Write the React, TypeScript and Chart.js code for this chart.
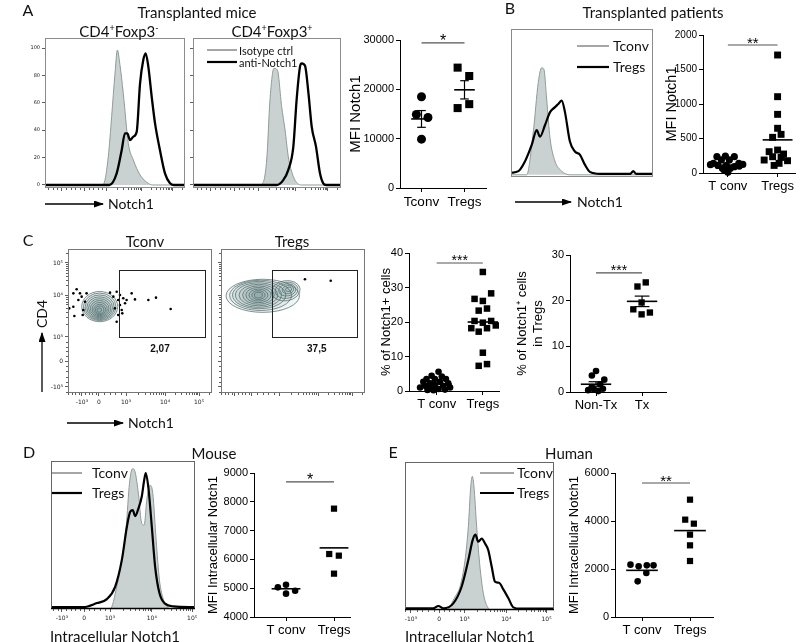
import React, { useEffect, useRef } from "react";
import { Chart, registerables } from "chart.js";

Chart.register(...registerables);
Chart.defaults.font.family = "'Liberation Sans', Arial, Helvetica, sans-serif";
Chart.defaults.color = "#111";

const W = 800;
const H = 642;

// ================= DATA =================
// Panel A – histograms (x: display channel 0-100, y: % of max)
const aNegIsoX = [0, 40, 42, 45.2, 47.6, 50, 51.7, 53.5, 55.9, 59.5, 63.1, 67.9, 73.8, 77, 100];
const aNegIsoY = [0, 0, 1, 20.7, 49.9, 81.5, 98.5, 88, 67, 30.4, 18.2, 7.3, 1.2, 0, 0];
const aNegNotchX = [0, 46, 51.2, 54.8, 57.1, 58.8, 60.7, 63.1, 65.5, 67.9, 70.2, 71.9, 73.8, 76.2, 78.6, 82.1, 85.7, 89.3, 92, 100];
const aNegNotchY = [0, 0, 8.5, 25.5, 37.7, 37.7, 32.8, 35.3, 38.9, 74.2, 91.2, 96.1, 86.4, 64.5, 45, 25.5, 8.5, 1.2, 0, 0];
const aPosIsoX = [0, 43, 46.4, 49.8, 52, 54.7, 57, 59.9, 62.2, 64.4, 67.8, 73.4, 100];
const aPosIsoY = [0, 0, 0.5, 18.2, 62, 85.2, 84, 57.2, 40.1, 20.7, 6.1, 0, 0];
const aPosNotchX = [0, 56.5, 61, 64.4, 67.8, 70, 72.3, 73.4, 75.7, 78, 80.2, 83.1, 85.8, 88, 90, 100];
const aPosNotchY = [0, 0, 3.6, 11, 28, 62, 86.4, 88.8, 87, 67, 42.6, 28, 8.5, 1.2, 0, 0];
const aHistYTicks = [0, 20, 40, 60, 80, 100];
const aHistXMajors = [12, 28, 44, 69, 91];

// Panel A – MFI scatter
const aCats = ["Tconv", "Tregs"];
const aTconvMFI = [18500, 14900, 14300, 9900];
const aTconvJit = [0, -0.12, 0.15, 0];
const aTregsMFI = [24400, 22700, 16200, 17000];
const aTregsJit = [-0.16, 0.11, -0.16, 0.11];
const aMean = [14000, 19900];
const aSem = [1700, 1850];

// Panel B – histogram
const bTconvX = [0, 11, 15.7, 19.2, 21.6, 23.2, 25.1, 27.5, 31, 35.7, 41.5, 100];
const bTconvY = [0, 0, 29.5, 63.3, 73.4, 72.3, 52, 25, 9.3, 2.5, 0, 0];
const bTregX = [0, 5.2, 9.9, 14.6, 18.1, 20.4, 23.9, 27.5, 31, 33.3, 35.7, 38, 41.5, 45, 48.6, 52, 55.6, 62.7, 84, 86.1, 88, 100];
const bTregY = [1.4, 2.5, 9.3, 20.5, 30.6, 26.1, 34, 43, 46.4, 48.6, 50.9, 43, 22.8, 16, 13.7, 7, 2, 0.7, 0.7, 2.5, 0.7, 0.7];

// Panel B – MFI scatter
const bCats = ["T conv", "Tregs"];
const bTconvMFI = [236, 245, 236, 190, 190, 140, 140, 110, 110, 92, 70, 70, 40, 10, 100, 120, 125];
const bTconvJit = [-0.22, -0.05, 0.13, -0.13, 0.03, -0.29, 0.22, -0.2, -0.03, 0.13, -0.11, 0.05, -0.07, 0, 0.23, -0.35, 0.3];
const bTregMFI = [1710, 1106, 850, 648, 517, 560, 333, 309, 275, 236, 226, 188, 178, 140, 110];
const bTregJit = [0, 0, 0, 0, -0.1, 0.07, 0, -0.17, 0.12, -0.1, 0.07, -0.27, 0.2, 0.03, -0.07];
const bMean = [110, 480];

// Panel C – contour plots (display units 0-100 on both axes)
const cLogLabels = ["-10³", "0", "10³", "10⁴", "10⁵"];
const cXMajors = [9.7, 21.5, 40.3, 67.4, 91];
const cYMajors = [4.2, 22.2, 38.9, 68, 90.3];
const tconvRingCx = [22, 22, 22, 22, 22, 22, 22, 22, 22, 21.7];
const tconvRingCy = [60, 59.8, 59.5, 59.2, 58.9, 58.6, 58.3, 58, 57.8, 57.6];
const tconvRingRx = [12.5, 11.3, 10.1, 8.9, 7.7, 6.5, 5.3, 4.1, 2.9, 1.6];
const tconvRingRy = [10.5, 9.6, 8.6, 7.6, 6.6, 5.6, 4.6, 3.6, 2.6, 1.5];
const tconvDotX = [6.0, 3.7, 8.3, 9.5, 7.2, 3.7, 0.9, 11.8, 10.6, 4.4, 10.2, 12.9, 29.2, 33.8, 36.1, 38.4, 34.9, 39.6, 36.1, 32.6, 37.3, 34.9, 37.7, 33.8, 44.2, 46.5, 55.8, 61.1, 71.3, 31.5, 40.7];
const tconvDotY = [72.0, 69.2, 69.2, 66.9, 64.6, 59.9, 58.8, 63.4, 57.6, 53.5, 54.2, 69.2, 69.7, 70.3, 68.1, 65.8, 64.6, 62.3, 61.1, 58.8, 57.6, 54.2, 55.3, 49.5, 69.2, 65.0, 64.6, 66.2, 58.3, 66.9, 64.6];
const tregBlobCx = [29, 27.5, 26.5, 26, 26, 26, 26, 26, 26, 26];
const tregBlobCy = [67.5, 67.8, 68, 68, 68, 68, 68, 68, 68, 68];
const tregBlobRx = [25.5, 21.5, 18.5, 16, 13.5, 11, 8.8, 6.6, 4.6, 2.8];
const tregBlobRy = [11.5, 10.5, 9.5, 8.5, 7.5, 6.4, 5.3, 4.2, 3.1, 2.0];
const tregTailCx = [45, 45.5, 46, 46.5, 47];
const tregTailCy = [71, 71.3, 71.6, 71.8, 72];
const tregTailRx = [10, 8, 6, 4, 2.2];
const tregTailRy = [7, 5.6, 4.2, 2.8, 1.5];
const tregDotX = [58.3, 76.2];
const tregDotY = [79, 78];
const tconvGateX = [35.4, 95.1];
const tregGateX = [35.6, 94.4];
const gateY = [38.7, 85.4];
const gatePct = ["2,07", "37,5"];

// Panel C – % scatters
const c1Cats = ["T conv", "Tregs"];
const c1TconvPct = [5.6, 4.4, 4.2, 3.5, 3.5, 3.5, 2.7, 2.7, 2.2, 2.2, 1.7, 1.5, 1.5, 1.0, 1.0, 0.8, 0.6, 0.4, 0.2, 0.3];
const c1TconvJit = [0.04, -0.11, 0.11, -0.22, -0.04, 0.2, -0.29, 0.07, -0.14, 0.25, -0.04, -0.25, 0.14, -0.36, 0.29, -0.14, 0.04, 0.18, -0.07, -0.2];
const c1TregPct = [34.5, 28.3, 26.7, 26.1, 23.3, 23.9, 20.3, 19.8, 20.3, 19.0, 18.2, 17.2, 18.2, 11.1, 7.3, 7.8];
const c1TregJit = [0, 0.18, -0.18, 0, -0.09, 0.09, -0.18, 0, 0.18, 0.28, -0.25, -0.09, 0.09, 0, -0.09, 0.09];
const c1Mean = [2.0, 20.0];
const c2Cats = ["Non-Tx", "Tx"];
const c2NonTxPct = [4.6, 3.6, 2.7, 1.7, 1.1, 0.7, 0.4, 0.2, 0.5];
const c2NonTxJit = [0, -0.09, 0.18, 0.09, -0.09, 0.15, -0.17, 0.05, -0.04];
const c2TxPct = [23.1, 24.0, 19.6, 18.1, 17.0, 17.4];
const c2TxJit = [-0.1, 0.08, -0.01, -0.19, -0.01, 0.17];
const c2Mean = [1.7, 19.85];
const c2Sem = [0.55, 1.15];

// Panel D – mouse
const dMajors = [7.6, 23, 41, 70, 98];
const dTconvX = [0, 41.1, 45.7, 49.2, 52.2, 54.5, 56.6, 58.4, 60.7, 63, 64.7, 66.5, 68.8, 70.7, 73, 75.3, 78.1, 81.5, 84, 100];
const dTconvY = [0, 0, 15.2, 33.2, 55.6, 84.8, 94.8, 92.6, 78, 57.8, 56.7, 73.5, 83.6, 78, 46.6, 19.7, 6.3, 0.7, 0, 0];
const dTregX = [0, 22.6, 31.9, 38.8, 44.6, 49.2, 52.7, 55, 56.8, 58.4, 60.7, 63, 64.7, 65.8, 67.7, 70, 72.3, 75.3, 79.2, 85, 100];
const dTregY = [1.3, 1.3, 4, 6.7, 15.2, 33.2, 55.6, 65.7, 66.8, 62.8, 67.9, 75.8, 87, 91.9, 81.4, 55.6, 28.7, 10.8, 3.6, 1.8, 1.3];
const dCats = ["T conv", "Tregs"];
const dTconvMFI = [5030, 5122, 4914, 4810];
const dTconvJit = [-0.17, 0, 0.19, 0];
const dTregMFI = [7762, 6187, 6130, 5505];
const dTregJit = [0, -0.1, 0.1, 0];
const dMean = [4980, 6400];

// Panel E – human
const eMajors = [4, 23, 40, 68, 95];
const eTconvX = [0, 28, 33.6, 36.9, 40.3, 42.5, 44.1, 45.2, 46.3, 48.1, 50.3, 52.6, 55.3, 58.2, 100];
const eTconvY = [0, 0, 9, 15.7, 33.7, 56.2, 83.1, 90.3, 83.1, 56.2, 29.2, 11.2, 2.2, 0, 0];
const eTregX = [0, 19, 22.4, 25.7, 32.4, 38, 42.5, 45.4, 47.2, 49.2, 51.5, 53.7, 55.9, 58.2, 60.4, 63.1, 66, 69.4, 72.7, 77.2, 100];
const eTregY = [1.1, 1.1, 2.7, 1.1, 4.5, 15.7, 33.7, 47.2, 51, 46.1, 48.3, 44.9, 40.4, 29.2, 19.1, 18.4, 13.9, 7.9, 1.8, 0.9, 0.9];
const eCats = ["T conv", "Tregs"];
const eTconvMFI = [2181, 2111, 2153, 2153, 1833, 1486];
const eTconvJit = [-0.24, -0.07, 0.1, 0.24, 0.09, -0.09];
const eTregMFI = [4889, 4056, 3889, 3431, 2986, 2333];
const eTregJit = [0, -0.1, 0.08, 0, 0, 0];
const eMean = [1944, 3600];

// ================= HELPERS =================
type Area = { l: number; t: number; r: number; b: number };

function pad(a: Area, yW: number, xH: number) {
  return { left: a.l - yW, top: a.t, right: W - a.r, bottom: H - a.b - xH };
}

function seg(ctx: CanvasRenderingContext2D, x0: number, y0: number, x1: number, y1: number) {
  ctx.beginPath();
  ctx.moveTo(x0, y0);
  ctx.lineTo(x1, y1);
  ctx.stroke();
}

// minor tick positions on a logicle display axis, between given major ticks
function minorTicks(m: number[]): number[] {
  const out: number[] = [];
  const [n1, z, p3, p4, p5] = m;
  const st = (z - n1) / 5;
  for (let k = 1; k < 5; k++) out.push(n1 + st * k);
  for (let v = n1 - st; v >= 0; v -= st) out.push(v);
  for (let k = 1; k < 5; k++) out.push(z + ((p3 - z) * k) / 5);
  [[p3, p4], [p4, p5]].forEach(([a, b]) => {
    for (let k = 2; k < 10; k++) out.push(a + (b - a) * Math.log10(k));
  });
  for (let k = 2; k < 10; k++) {
    const v = p5 + (p5 - p4) * Math.log10(k);
    if (v <= 100) out.push(v);
  }
  return out;
}

type Group = { vals: number[]; jit: number[]; shape: "circle" | "rect"; r: number };
interface ScatterSpec {
  area: Area;
  yW: number;
  xH: number;
  yMin: number;
  yMax: number;
  yStep: number;
  yTitle: string | string[];
  titleSize: number;
  tickSize: number;
  catSize: number;
  cats: string[];
  xMin: number;
  xMax: number;
  groups: Group[];
  means: number[];
  sems?: number[];
  meanHalf: number;
  capHalf?: number;
  sigY: number;
  sigLabel: string;
  sigSize: number;
}

function buildScatter(canvas: HTMLCanvasElement, s: ScatterSpec) {
  const stats = {
    id: "stats",
    afterDatasetsDraw(chart: any) {
      const ctx: CanvasRenderingContext2D = chart.ctx;
      const xs = chart.scales.x;
      const ys = chart.scales.y;
      ctx.save();
      ctx.strokeStyle = "#000";
      s.means.forEach((m, i) => {
        const yp = ys.getPixelForValue(m);
        ctx.lineWidth = 1.6;
        seg(ctx, xs.getPixelForValue(i - s.meanHalf), yp, xs.getPixelForValue(i + s.meanHalf), yp);
        if (s.sems) {
          const e = s.sems[i];
          const xp = xs.getPixelForValue(i);
          const yt = ys.getPixelForValue(m + e);
          const yb = ys.getPixelForValue(m - e);
          const ch = s.capHalf ?? 0.1;
          ctx.lineWidth = 1.2;
          seg(ctx, xp, yt, xp, yb);
          seg(ctx, xs.getPixelForValue(i - ch), yt, xs.getPixelForValue(i + ch), yt);
          seg(ctx, xs.getPixelForValue(i - ch), yb, xs.getPixelForValue(i + ch), yb);
        }
      });
      const by = ys.getPixelForValue(s.sigY);
      const bx0 = xs.getPixelForValue(0);
      const bx1 = xs.getPixelForValue(1);
      ctx.strokeStyle = "#555";
      ctx.lineWidth = 1.2;
      seg(ctx, bx0, by, bx1, by);
      ctx.fillStyle = "#000";
      ctx.font = `${s.sigSize}px 'Liberation Sans', Arial, sans-serif`;
      ctx.textAlign = "center";
      ctx.textBaseline = "alphabetic";
      ctx.fillText(s.sigLabel, (bx0 + bx1) / 2, by - 6 + 0.575 * s.sigSize);
      ctx.restore();
    },
  };
  return new Chart(canvas, {
    type: "scatter",
    data: {
      datasets: s.groups.map((g, i) => ({
        data: g.vals.map((v, k) => ({ x: i + g.jit[k], y: v })),
        pointStyle: g.shape,
        pointRadius: g.r,
        pointHoverRadius: g.r,
        backgroundColor: "#000",
        borderColor: "#000",
        borderWidth: 0,
        clip: false as any,
      })),
    },
    options: {
      responsive: false,
      animation: false,
      events: [],
      layout: { padding: pad(s.area, s.yW, s.xH) },
      plugins: { legend: { display: false }, tooltip: { enabled: false } },
      scales: {
        x: {
          type: "linear",
          min: s.xMin,
          max: s.xMax,
          afterBuildTicks: (sc: any) => {
            sc.ticks = s.cats.map((_, i) => ({ value: i }));
          },
          afterFit: (sc: any) => {
            sc.height = s.xH;
          },
          ticks: {
            autoSkip: false,
            maxRotation: 0,
            padding: 2,
            color: "#000",
            font: { size: s.catSize },
            callback: (v: any) => s.cats[v as number] ?? "",
          },
          grid: { drawOnChartArea: false, drawTicks: true, tickLength: 4, color: "#000", lineWidth: 1 },
          border: { display: true, color: "#000", width: 1 },
        },
        y: {
          type: "linear",
          min: s.yMin,
          max: s.yMax,
          afterFit: (sc: any) => {
            sc.width = s.yW;
          },
          ticks: {
            stepSize: s.yStep,
            padding: 2,
            color: "#000",
            font: { size: s.tickSize },
            callback: (v: any) => String(v),
          },
          grid: { drawOnChartArea: false, drawTicks: true, tickLength: 4, color: "#000", lineWidth: 1 },
          border: { display: true, color: "#000", width: 1 },
          title: {
            display: true,
            text: s.yTitle,
            color: "#000",
            font: { size: s.titleSize },
            padding: { top: 4, bottom: 4 },
          },
        },
      },
    } as any,
    plugins: [stats],
  });
}

type Curve = { x: number[]; y: number[]; kind: "iso" | "stain"; width?: number };
type Rings = { cx: number[]; cy: number[]; rx: number[]; ry: number[]; rot?: number };
interface HistSpec {
  area: Area;
  yMin: number;
  yMax: number;
  curves: Curve[];
  xMajors?: number[];
  xLabels?: string[];
  xH: number;
  yMajors?: number[];
  yLabels?: string[];
  yW: number;
  yLog?: boolean;
  labelFont?: number;
  box: string;
  bottom?: string;
  rings?: Rings[];
  dots?: { x: number[]; y: number[] };
  gate?: { x: number[]; y: number[]; label: string; lx: number; ly: number };
}

function buildHist(canvas: HTMLCanvasElement, s: HistSpec) {
  const deco = {
    id: "deco",
    beforeDatasetsDraw(chart: any) {
      if (!s.rings) return;
      const ctx: CanvasRenderingContext2D = chart.ctx;
      const xs = chart.scales.x;
      const ys = chart.scales.y;
      ctx.save();
      s.rings.forEach((rg) => {
        rg.cx.forEach((cx, i) => {
          const px = xs.getPixelForValue(cx);
          const py = ys.getPixelForValue(rg.cy[i]);
          const rx = Math.abs(xs.getPixelForValue(cx + rg.rx[i]) - px);
          const ry = Math.abs(ys.getPixelForValue(rg.cy[i] + rg.ry[i]) - py);
          ctx.beginPath();
          ctx.ellipse(px, py, rx, ry, rg.rot ?? 0, 0, Math.PI * 2);
          ctx.fillStyle = "rgba(60,95,95,0.07)";
          ctx.fill();
          ctx.strokeStyle = "#4a6666";
          ctx.lineWidth = 0.7;
          ctx.stroke();
        });
      });
      ctx.restore();
    },
    afterDatasetsDraw(chart: any) {
      const ctx: CanvasRenderingContext2D = chart.ctx;
      const a = chart.chartArea;
      const xs = chart.scales.x;
      const ys = chart.scales.y;
      ctx.save();
      if (s.gate) {
        const g = s.gate;
        const x0 = Math.round(xs.getPixelForValue(g.x[0])) + 0.5;
        const x1 = Math.round(xs.getPixelForValue(g.x[1])) + 0.5;
        const y0 = Math.round(ys.getPixelForValue(g.y[0])) + 0.5;
        const y1 = Math.round(ys.getPixelForValue(g.y[1])) + 0.5;
        ctx.strokeStyle = "#222";
        ctx.lineWidth = 1;
        ctx.strokeRect(x0, y1, x1 - x0, y0 - y1);
        ctx.fillStyle = "#111";
        ctx.font = "bold 10px 'Liberation Sans', Arial, sans-serif";
        ctx.textAlign = "center";
        ctx.textBaseline = "middle";
        ctx.fillText(g.label, xs.getPixelForValue(g.lx), ys.getPixelForValue(g.ly));
      }
      ctx.strokeStyle = s.box;
      ctx.lineWidth = 1;
      ctx.strokeRect(a.left + 0.5, a.top + 0.5, a.right - a.left - 1, a.bottom - a.top - 1);
      if (s.bottom) {
        ctx.strokeStyle = s.bottom;
        ctx.lineWidth = 1.6;
        seg(ctx, a.left, a.bottom - 0.5, a.right, a.bottom - 0.5);
      }
      ctx.strokeStyle = "#333";
      ctx.lineWidth = 0.8;
      if (s.xMajors && s.xH > 0) {
        minorTicks(s.xMajors).forEach((v) => {
          const p = Math.round(xs.getPixelForValue(v)) + 0.5;
          seg(ctx, p, a.bottom, p, a.bottom + 2);
        });
      }
      if (s.yMajors && s.yLog) {
        minorTicks(s.yMajors).forEach((v) => {
          const p = Math.round(ys.getPixelForValue(v)) + 0.5;
          seg(ctx, a.left, p, a.left - 2, p);
        });
      }
      ctx.restore();
    },
  };
  const datasets: any[] = s.curves.map((c) => ({
    data: c.x.map((x, i) => ({ x, y: c.y[i] })),
    borderColor: c.kind === "iso" ? "#8e9c99" : "#000",
    borderWidth: c.kind === "iso" ? 1 : c.width ?? 2,
    backgroundColor: c.kind === "iso" ? "#c9d2d0" : "transparent",
    fill: c.kind === "iso" ? "origin" : false,
    pointRadius: 0,
    tension: 0.35,
    cubicInterpolationMode: "monotone",
    order: c.kind === "iso" ? 2 : 1,
  }));
  if (s.dots) {
    datasets.push({
      data: s.dots.x.map((x, i) => ({ x, y: s.dots!.y[i] })),
      showLine: false,
      pointRadius: 1.3,
      backgroundColor: "#000",
      borderWidth: 0,
      order: 0,
    });
  }
  const tinyFont = { size: s.labelFont ?? 6, family: "'DejaVu Sans', sans-serif" };
  return new Chart(canvas, {
    type: "line",
    data: { datasets },
    options: {
      responsive: false,
      animation: false,
      events: [],
      layout: { padding: pad(s.area, s.yMajors ? s.yW : 0, s.xH) },
      plugins: { legend: { display: false }, tooltip: { enabled: false } },
      scales: {
        x: {
          type: "linear",
          min: 0,
          max: 100,
          display: s.xH > 0,
          afterBuildTicks: (sc: any) => {
            sc.ticks = (s.xMajors ?? []).map((v) => ({ value: v }));
          },
          afterFit: (sc: any) => {
            sc.height = s.xH;
          },
          ticks: {
            autoSkip: false,
            maxRotation: 0,
            padding: 3,
            color: "#222",
            font: tinyFont,
            callback: (_v: any, i: number) => (s.xLabels ? s.xLabels[i] : ""),
          },
          grid: { drawOnChartArea: false, tickLength: 3, color: "#333", lineWidth: 0.8 },
          border: { display: false },
        },
        y: {
          type: "linear",
          min: s.yMin,
          max: s.yMax,
          display: !!s.yMajors,
          afterBuildTicks: (sc: any) => {
            sc.ticks = (s.yMajors ?? []).map((v) => ({ value: v }));
          },
          afterFit: (sc: any) => {
            sc.width = s.yW;
          },
          ticks: {
            autoSkip: false,
            padding: 2,
            color: "#222",
            font: tinyFont,
            callback: (_v: any, i: number) => (s.yLabels ? s.yLabels[i] : ""),
          },
          grid: { drawOnChartArea: false, tickLength: 3, color: "#333", lineWidth: 0.8 },
          border: { display: false },
        },
      },
    } as any,
    plugins: [deco],
  });
}

function Layer({ make }: { make: (c: HTMLCanvasElement) => Chart }) {
  const ref = useRef<HTMLCanvasElement>(null);
  useEffect(() => {
    const chart = make(ref.current!);
    return () => chart.destroy();
  }, []);
  return (
    <canvas
      ref={ref}
      width={W}
      height={H}
      style={{ position: "absolute", left: 0, top: 0, width: W, height: H, pointerEvents: "none" }}
    />
  );
}

function T(props: {
  x: number;
  y: number;
  size?: number;
  anchor?: "start" | "middle";
  rot?: number;
  children: React.ReactNode;
}) {
  const { x, y, size = 15, anchor = "middle", rot = 0, children } = props;
  const tx = anchor === "middle" ? "-50%" : "0";
  return (
    <div
      style={{
        position: "absolute",
        left: x,
        top: y,
        transform: `translate(${tx}, -50%)${rot ? ` rotate(${rot}deg)` : ""}`,
        fontSize: size,
        lineHeight: 1,
        whiteSpace: "nowrap",
        fontFamily: "Lato, 'Liberation Sans', sans-serif",
        color: "#111",
      }}
    >
      {children}
    </div>
  );
}

const sup: React.CSSProperties = { fontSize: 9, position: "relative", top: -6 };

const aRange = { yMin: -2.2, yMax: 107.3 };

export default function App() {
  return (
    <div style={{ position: "absolute", left: 0, top: 0, width: W, height: H, background: "#fff", overflow: "hidden" }}>
      {/* Panel A histograms */}
      <Layer
        make={(c) =>
          buildHist(c, {
            area: { l: 45, t: 38, r: 185, b: 188 },
            ...aRange,
            curves: [
              { x: aNegIsoX, y: aNegIsoY, kind: "iso" },
              { x: aNegNotchX, y: aNegNotchY, kind: "stain", width: 2.3 },
            ],
            xMajors: aHistXMajors,
            xH: 6,
            yMajors: aHistYTicks,
            yLabels: aHistYTicks.map(String),
            yW: 15,
            labelFont: 5,
            box: "#8c8c8c",
          })
        }
      />
      <Layer
        make={(c) =>
          buildHist(c, {
            area: { l: 193, t: 38, r: 341, b: 188 },
            ...aRange,
            curves: [
              { x: aPosIsoX, y: aPosIsoY, kind: "iso" },
              { x: aPosNotchX, y: aPosNotchY, kind: "stain", width: 2.3 },
            ],
            xMajors: aHistXMajors,
            xH: 6,
            yMajors: aHistYTicks,
            yW: 5,
            box: "#8c8c8c",
          })
        }
      />
      {/* Panel A scatter */}
      <Layer
        make={(c) =>
          buildScatter(c, {
            area: { l: 400, t: 40, r: 486, b: 188 },
            yW: 57,
            xH: 24,
            yMin: 0,
            yMax: 30000,
            yStep: 10000,
            yTitle: "MFI Notch1",
            titleSize: 15,
            tickSize: 11,
            catSize: 13.5,
            cats: aCats,
            xMin: -0.5,
            xMax: 1.5,
            groups: [
              { vals: aTconvMFI, jit: aTconvJit, shape: "circle", r: 4.5 },
              { vals: aTregsMFI, jit: aTregsJit, shape: "rect", r: 5.7 },
            ],
            means: aMean,
            sems: aSem,
            meanHalf: 0.24,
            capHalf: 0.1,
            sigY: 29400,
            sigLabel: "*",
            sigSize: 16,
          })
        }
      />
      {/* Panel B */}
      <Layer
        make={(c) =>
          buildHist(c, {
            area: { l: 511, t: 29, r: 653, b: 177 },
            yMin: -1.5,
            yMax: 100,
            curves: [
              { x: bTconvX, y: bTconvY, kind: "iso" },
              { x: bTregX, y: bTregY, kind: "stain", width: 2.2 },
            ],
            xH: 0,
            yW: 0,
            box: "#8a8a8a",
          })
        }
      />
      <Layer
        make={(c) =>
          buildScatter(c, {
            area: { l: 703, t: 35, r: 795, b: 173 },
            yW: 44,
            xH: 22,
            yMin: 0,
            yMax: 2000,
            yStep: 500,
            yTitle: "MFI Notch1",
            titleSize: 14.5,
            tickSize: 10,
            catSize: 13,
            cats: bCats,
            xMin: -0.5,
            xMax: 1.35,
            groups: [
              { vals: bTconvMFI, jit: bTconvJit, shape: "circle", r: 3.6 },
              { vals: bTregMFI, jit: bTregJit, shape: "rect", r: 4.9 },
            ],
            means: bMean,
            meanHalf: 0.3,
            sigY: 1855,
            sigLabel: "**",
            sigSize: 15,
          })
        }
      />
      {/* Panel C contour plots */}
      <Layer
        make={(c) =>
          buildHist(c, {
            area: { l: 68, t: 249, r: 212, b: 393 },
            yMin: 0,
            yMax: 100,
            curves: [],
            xMajors: cXMajors,
            xLabels: cLogLabels,
            xH: 18,
            yMajors: cYMajors,
            yLabels: cLogLabels,
            yW: 20,
            yLog: true,
            box: "#777",
            rings: [{ cx: tconvRingCx, cy: tconvRingCy, rx: tconvRingRx, ry: tconvRingRy }],
            dots: { x: tconvDotX, y: tconvDotY },
            gate: { x: tconvGateX, y: gateY, label: gatePct[0], lx: 63.9, ly: 30.3 },
          })
        }
      />
      <Layer
        make={(c) =>
          buildHist(c, {
            area: { l: 221, t: 249, r: 365, b: 393 },
            yMin: 0,
            yMax: 100,
            curves: [],
            xMajors: cXMajors,
            xH: 5,
            yMajors: cYMajors,
            yW: 4,
            yLog: true,
            box: "#777",
            rings: [
              { cx: tregBlobCx, cy: tregBlobCy, rx: tregBlobRx, ry: tregBlobRy },
              { cx: tregTailCx, cy: tregTailCy, rx: tregTailRx, ry: tregTailRy, rot: -0.15 },
            ],
            dots: { x: tregDotX, y: tregDotY },
            gate: { x: tregGateX, y: gateY, label: gatePct[1], lx: 66.5, ly: 30.3 },
          })
        }
      />
      {/* Panel C scatters */}
      <Layer
        make={(c) =>
          buildScatter(c, {
            area: { l: 409, t: 253, r: 499, b: 391 },
            yW: 34,
            xH: 22,
            yMin: 0,
            yMax: 40,
            yStep: 10,
            yTitle: "% of Notch1+ cells",
            titleSize: 13,
            tickSize: 11,
            catSize: 13,
            cats: c1Cats,
            xMin: -0.6,
            xMax: 1.35,
            groups: [
              { vals: c1TconvPct, jit: c1TconvJit, shape: "circle", r: 3.3 },
              { vals: c1TregPct, jit: c1TregJit, shape: "rect", r: 4.6 },
            ],
            means: c1Mean,
            meanHalf: 0.33,
            sigY: 37.1,
            sigLabel: "***",
            sigSize: 14,
          })
        }
      />
      <Layer
        make={(c) =>
          buildScatter(c, {
            area: { l: 570, t: 255, r: 666, b: 392 },
            yW: 59,
            xH: 22,
            yMin: 0,
            yMax: 30,
            yStep: 10,
            yTitle: ["% of Notch1⁺ cells", "in Tregs"],
            titleSize: 13,
            tickSize: 11,
            catSize: 13,
            cats: c2Cats,
            xMin: -0.565,
            xMax: 1.52,
            groups: [
              { vals: c2NonTxPct, jit: c2NonTxJit, shape: "circle", r: 3.3 },
              { vals: c2TxPct, jit: c2TxJit, shape: "rect", r: 4.5 },
            ],
            means: c2Mean,
            sems: c2Sem,
            meanHalf: 0.33,
            capHalf: 0.16,
            sigY: 26.1,
            sigLabel: "***",
            sigSize: 14,
          })
        }
      />
      {/* Panel D */}
      <Layer
        make={(c) =>
          buildHist(c, {
            area: { l: 51, t: 461, r: 195, b: 609 },
            yMin: 0,
            yMax: 100,
            curves: [
              { x: dTconvX, y: dTconvY, kind: "iso" },
              { x: dTregX, y: dTregY, kind: "stain", width: 2.2 },
            ],
            xMajors: dMajors,
            xLabels: cLogLabels,
            xH: 18,
            yW: 0,
            box: "#666",
            bottom: "#000",
          })
        }
      />
      <Layer
        make={(c) =>
          buildScatter(c, {
            area: { l: 254, t: 473, r: 350, b: 617 },
            yW: 52,
            xH: 22,
            yMin: 4000,
            yMax: 9000,
            yStep: 1000,
            yTitle: "MFI Intracellular Notch1",
            titleSize: 13,
            tickSize: 11,
            catSize: 13,
            cats: dCats,
            xMin: -0.667,
            xMax: 1.333,
            groups: [
              { vals: dTconvMFI, jit: dTconvJit, shape: "circle", r: 3.3 },
              { vals: dTregMFI, jit: dTregJit, shape: "rect", r: 4.4 },
            ],
            means: dMean,
            meanHalf: 0.3,
            sigY: 8690,
            sigLabel: "*",
            sigSize: 16,
          })
        }
      />
      {/* Panel E */}
      <Layer
        make={(c) =>
          buildHist(c, {
            area: { l: 405, t: 462, r: 554, b: 610 },
            yMin: 0,
            yMax: 100,
            curves: [
              { x: eTconvX, y: eTconvY, kind: "iso" },
              { x: eTregX, y: eTregY, kind: "stain", width: 2.2 },
            ],
            xMajors: eMajors,
            xLabels: cLogLabels,
            xH: 18,
            yW: 0,
            box: "#666",
            bottom: "#000",
          })
        }
      />
      <Layer
        make={(c) =>
          buildScatter(c, {
            area: { l: 615, t: 473, r: 713, b: 617 },
            yW: 52,
            xH: 22,
            yMin: 0,
            yMax: 6000,
            yStep: 2000,
            yTitle: "MFI Intracellular Notch1",
            titleSize: 13,
            tickSize: 11,
            catSize: 13,
            cats: eCats,
            xMin: -0.5625,
            xMax: 1.479,
            groups: [
              { vals: eTconvMFI, jit: eTconvJit, shape: "circle", r: 3.3 },
              { vals: eTregMFI, jit: eTregJit, shape: "rect", r: 4.4 },
            ],
            means: eMean,
            meanHalf: 0.33,
            sigY: 5583,
            sigLabel: "**",
            sigSize: 15,
          })
        }
      />

      {/* arrows and legend lines */}
      <svg width={W} height={H} style={{ position: "absolute", left: 0, top: 0, pointerEvents: "none" }}>
        <defs>
          <marker id="ah" markerWidth="10" markerHeight="7" refX="9" refY="3.5" orient="auto" markerUnits="userSpaceOnUse">
            <polygon points="0 0, 10 3.5, 0 7" fill="#000" />
          </marker>
        </defs>
        <line x1={45} y1={204} x2={103} y2={204} stroke="#000" strokeWidth={1.3} markerEnd="url(#ah)" />
        <line x1={515} y1={202} x2={571} y2={202} stroke="#000" strokeWidth={1.3} markerEnd="url(#ah)" />
        <line x1={67} y1={423} x2={123} y2={423} stroke="#000" strokeWidth={1.3} markerEnd="url(#ah)" />
        <line x1={42} y1={392} x2={42} y2={333} stroke="#000" strokeWidth={1.3} markerEnd="url(#ah)" />
        <line x1={207} y1={50} x2={237} y2={50} stroke="#888" strokeWidth={1.5} />
        <line x1={207} y1={62} x2={237} y2={62} stroke="#000" strokeWidth={2.2} />
        <line x1={577} y1={46} x2={609} y2={46} stroke="#888" strokeWidth={1.5} />
        <line x1={577} y1={67} x2={609} y2={67} stroke="#000" strokeWidth={2.2} />
        <line x1={52} y1={473} x2={82} y2={473} stroke="#888" strokeWidth={1.5} />
        <line x1={52} y1={493} x2={82} y2={493} stroke="#000" strokeWidth={2.2} />
        <line x1={480} y1={473} x2={514} y2={473} stroke="#888" strokeWidth={1.5} />
        <line x1={480} y1={493} x2={514} y2={493} stroke="#000" strokeWidth={2.2} />
      </svg>

      {/* Panel A text */}
      <T x={28} y={10} size={16}>A</T>
      <T x={197} y={12}>Transplanted mice</T>
      <T x={119} y={31}>
        CD4<span style={sup}>+</span>Foxp3<span style={sup}>-</span>
      </T>
      <T x={272} y={31}>
        CD4<span style={sup}>+</span>Foxp3<span style={sup}>+</span>
      </T>
      <T x={239} y={50} size={11} anchor="start">Isotype ctrl</T>
      <T x={239} y={62} size={11} anchor="start">anti-Notch1</T>
      <T x={108} y={204} size={14} anchor="start">Notch1</T>

      {/* Panel B text */}
      <T x={510} y={8} size={16}>B</T>
      <T x={653} y={12}>Transplanted patients</T>
      <T x={613} y={46} size={14} anchor="start">Tconv</T>
      <T x={613} y={67} size={14} anchor="start">Tregs</T>
      <T x={577} y={202} size={14} anchor="start">Notch1</T>

      {/* Panel C text */}
      <T x={28} y={240} size={16}>C</T>
      <T x={145} y={241}>Tconv</T>
      <T x={292} y={241}>Tregs</T>
      <T x={128} y={423} size={14} anchor="start">Notch1</T>
      <T x={42} y={314} size={14} rot={-90}>CD4</T>

      {/* Panel D text */}
      <T x={29} y={452} size={16}>D</T>
      <T x={214} y={453}>Mouse</T>
      <T x={92} y={473} size={14} anchor="start">Tconv</T>
      <T x={92} y={493} size={14} anchor="start">Tregs</T>
      <T x={115} y={636}>Intracellular Notch1</T>

      {/* Panel E text */}
      <T x={393} y={452} size={16}>E</T>
      <T x={569} y={453}>Human</T>
      <T x={517} y={473} size={14} anchor="start">Tconv</T>
      <T x={517} y={493} size={14} anchor="start">Tregs</T>
      <T x={470} y={636}>Intracellular Notch1</T>
    </div>
  );
}
